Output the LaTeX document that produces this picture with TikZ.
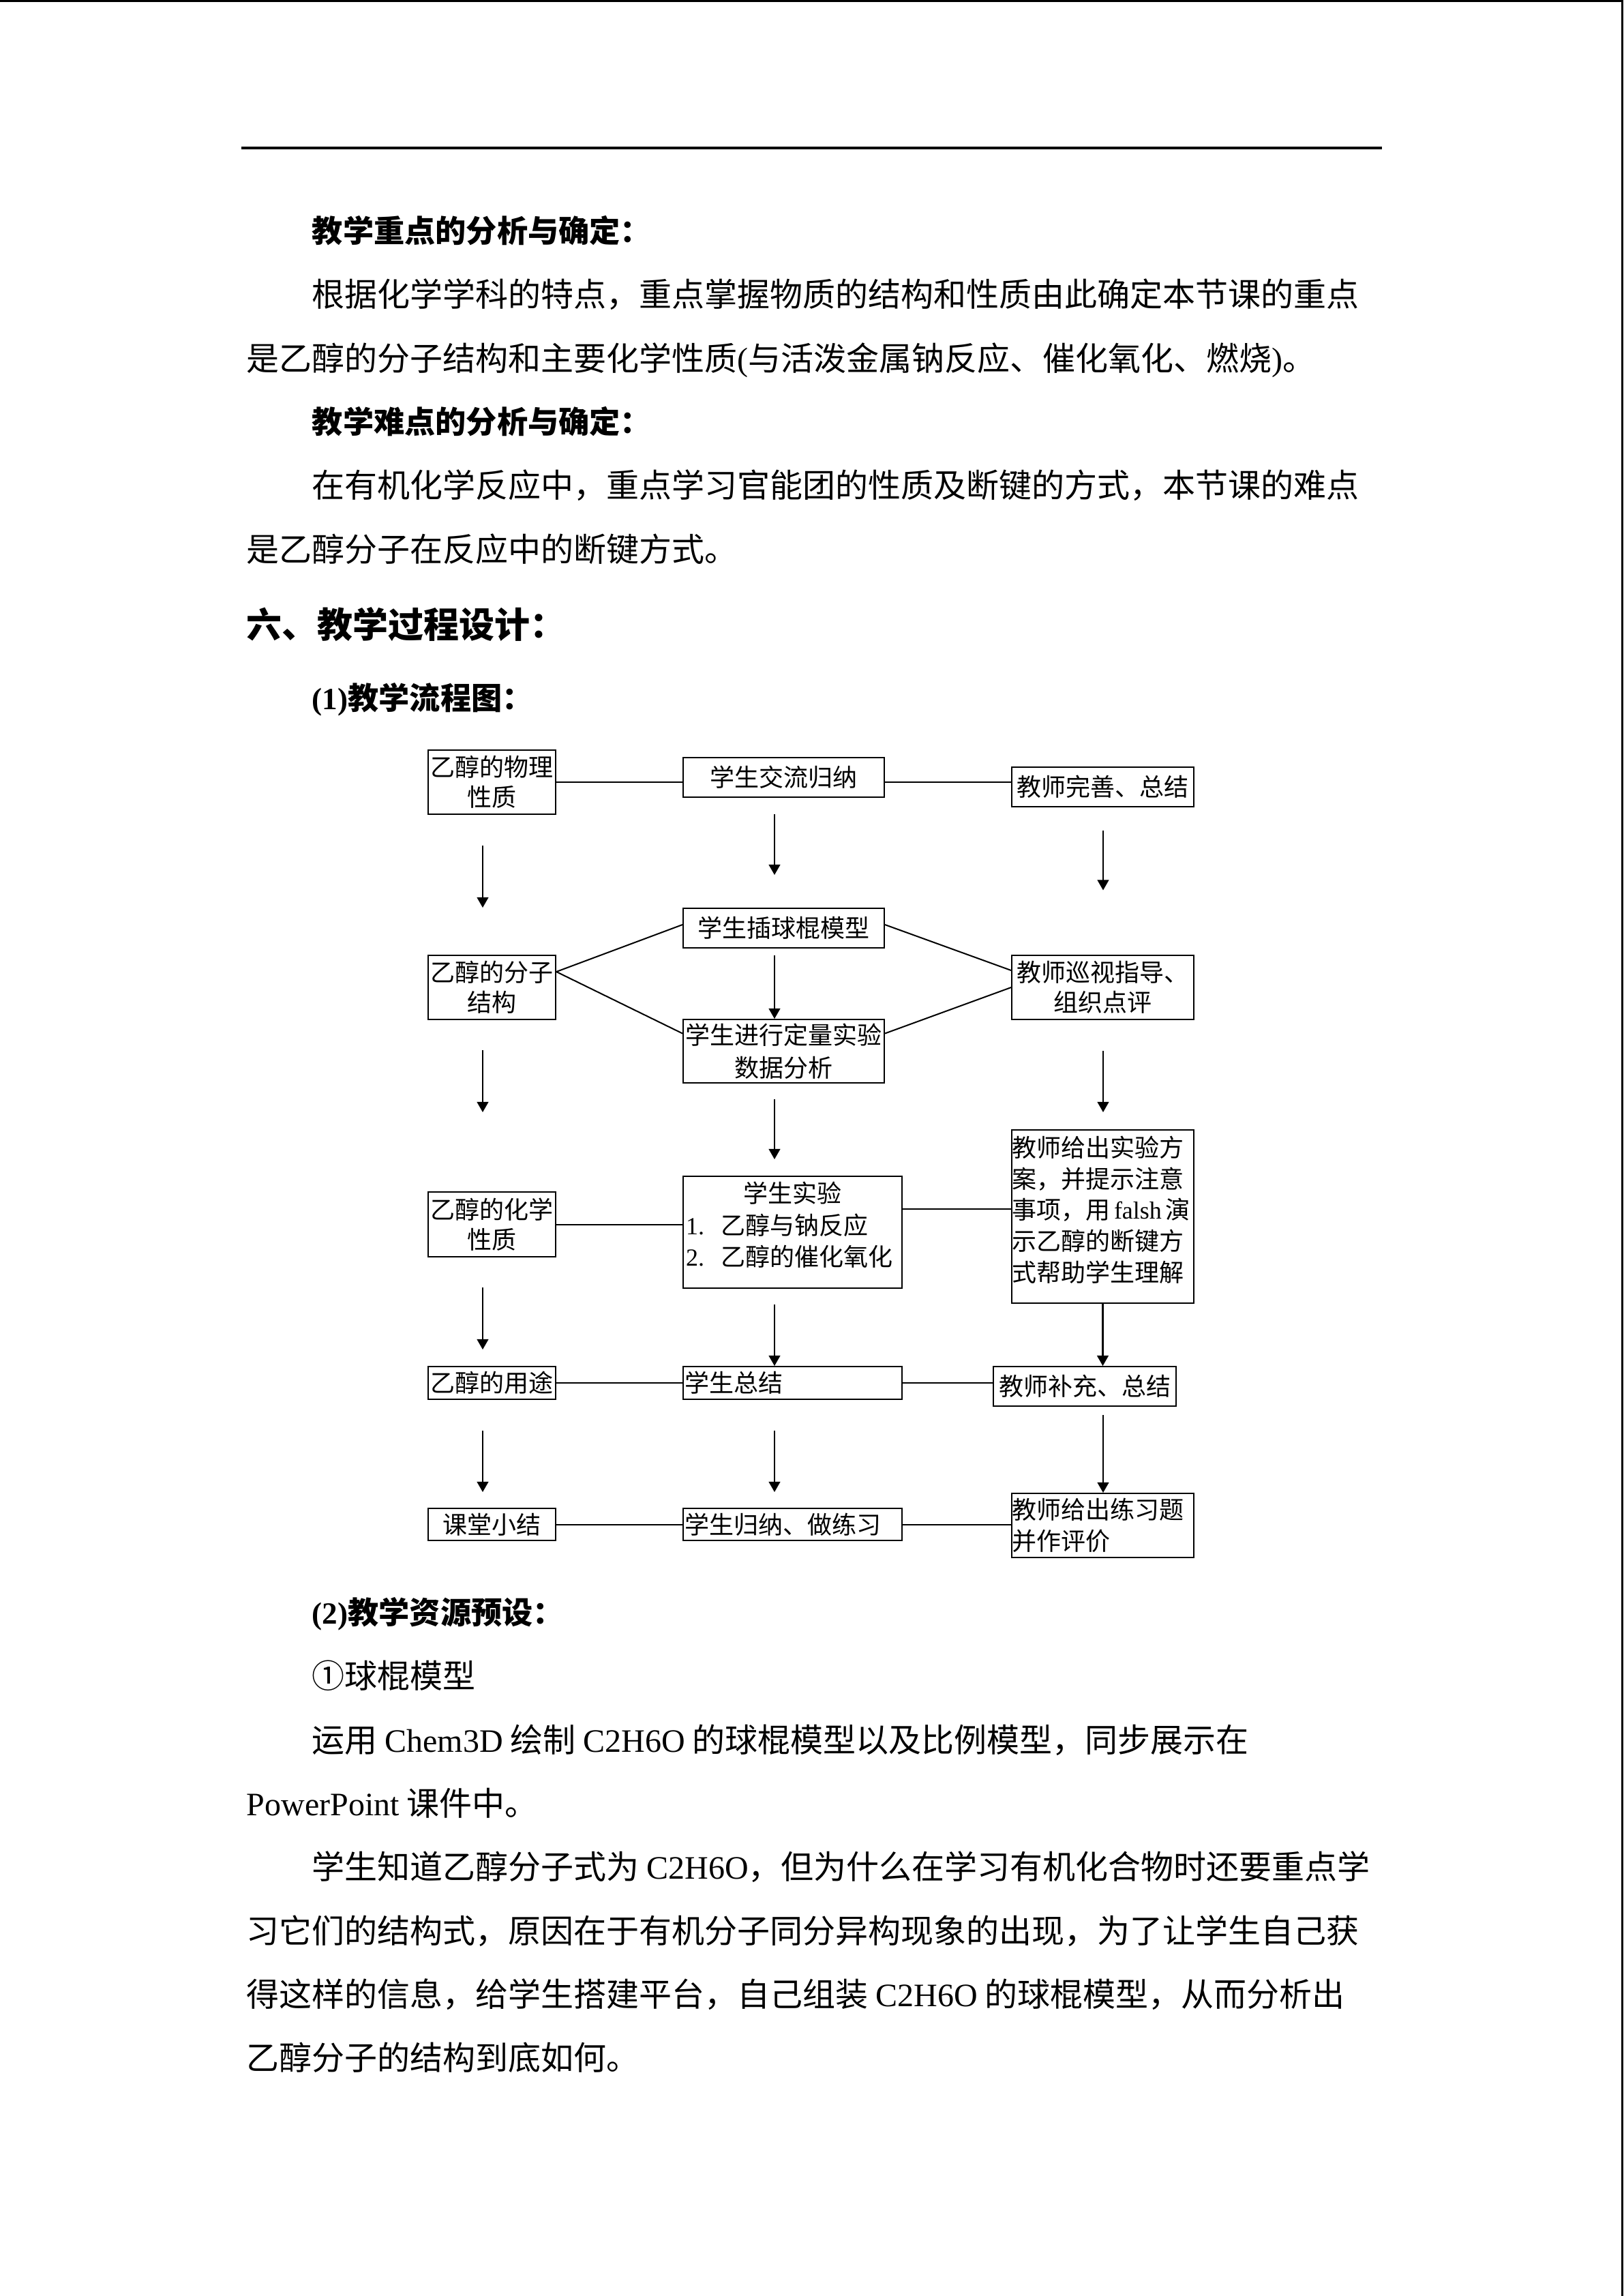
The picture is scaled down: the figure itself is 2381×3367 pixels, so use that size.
\documentclass[tikz,border=0pt]{standalone}
\usepackage{fontspec}
\setmainfont{Liberation Serif}
\newfontfamily\cjk{Noto Sans CJK SC}
\usetikzlibrary{arrows.meta,calc}
\begin{document}
\begin{tikzpicture}[x=0.25pt,y=-0.25pt,
  bodytxt/.style={anchor=base west, inner sep=0pt, font=\cjk\fontsize{12}{14}\selectfont},
  headtxt/.style={anchor=base west, inner sep=0pt, font=\cjk\bfseries\fontsize{11.3}{14}\selectfont},
  flowbox/.style={draw, line width=0.5pt, inner sep=0pt, font=\cjk\fontsize{9}{11}\selectfont, align=center},
  conn/.style={line width=0.5pt},
  arr/.style={line width=0.55pt, -{Triangle[width=4.2pt,length=3.8pt]}}
]
\fill[white] (0,0) rectangle (2381,3367);
\path[use as bounding box] (0,0) rectangle (2381,3367);
% scan frame
\draw[line width=0.8pt] (0,1.6) -- (2381,1.6);
\draw[line width=0.75pt] (2379,0) -- (2379,3367);
% header rule
\draw[line width=1pt] (354,217) -- (2027,217);

% body text
\node[headtxt] (h1) at (457,355) {教学重点的分析与确定：};
\node[bodytxt] (t1) at (457,449) {根据化学学科的特点，重点掌握物质的结构和性质由此确定本节课的重点};
\node[bodytxt] (t2) at (361,543) {是乙醇的分子结构和主要化学性质{\rmfamily(}与活泼金属钠反应、催化氧化、燃烧{\rmfamily)}。};
\node[headtxt] (h2) at (457,635) {教学难点的分析与确定：};
\node[bodytxt] (t3) at (457,729) {在有机化学反应中，重点学习官能团的性质及断键的方式，本节课的难点};
\node[bodytxt] (t4) at (361,823) {是乙醇分子在反应中的断键方式。};
\node[headtxt, font=\cjk\bfseries\fontsize{13}{15}\selectfont] (h3) at (361,935) {六、教学过程设计：};
\node[headtxt] (h4) at (457,1040) {{\rmfamily\bfseries (1)}教学流程图：};

% flowchart boxes
\node[flowbox, minimum width=46.75pt, minimum height=23.5pt] (A) at (721.5,1147) {乙醇的物理\\性质};
\node[flowbox, minimum width=73.75pt, minimum height=14.5pt] (B) at (1149.5,1140) {学生交流归纳};
\node[flowbox, minimum width=66.75pt, minimum height=14.5pt] (F) at (1617.5,1154) {教师完善、总结};
\node[flowbox, minimum width=73.75pt, minimum height=14.5pt] (C) at (1149.5,1361) {学生插球棍模型};
\node[flowbox, minimum width=46.75pt, minimum height=23.5pt] (D) at (721.5,1448) {乙醇的分子\\结构};
\node[flowbox, minimum width=66.75pt, minimum height=23.5pt] (G) at (1617.5,1448) {教师巡视指导、\\组织点评};
\node[flowbox, minimum width=73.75pt, minimum height=23.25pt, font=\cjk\fontsize{9}{12}\selectfont] (E) at (1149.5,1541.5) {学生进行定量实验\\数据分析};
\node[flowbox, minimum width=46.75pt, minimum height=23.75pt] (I) at (721.5,1795.5) {乙醇的化学\\性质};
\node[flowbox] (H) at (1162.5,1807) {\parbox[c][41pt][t]{80.25pt}{\fontsize{9}{11.6}\selectfont\centering\rule{0pt}{9.7pt}学生实验\par\raggedright\hspace*{1pt}{\rmfamily 1.}\hspace{6pt}乙醇与钠反应\par\hspace*{1pt}{\rmfamily 2.}\hspace{6pt}乙醇的催化氧化}};
\node[flowbox] (N) at (1617.5,1784) {\parbox[c][63.5pt][t]{66.75pt}{\fontsize{9}{11.4}\selectfont\raggedright\rule{0pt}{9.9pt}教师给出实验方\\案，并提示注意\\事项，用\hspace{1.5pt}{\rmfamily falsh}\hspace{1.5pt}演\\示乙醇的断键方\\式帮助学生理解}};
\node[flowbox, minimum width=46.75pt, minimum height=12pt] (J) at (721.5,2028) {乙醇的用途};
\node[flowbox, text width=79.25pt, inner xsep=0.5pt, minimum height=12pt, align=left] (K) at (1162.5,2028) {学生总结};
\node[flowbox, minimum width=67pt, minimum height=14.5pt] (P) at (1591,2033) {教师补充、总结};
\node[flowbox, minimum width=46.75pt, minimum height=11.75pt] (L) at (721.5,2235.5) {课堂小结};
\node[flowbox, text width=79.25pt, inner xsep=0.5pt, minimum height=11.75pt, align=left] (M) at (1162.5,2235.5) {学生归纳、做练习};
\node[flowbox, text width=66.75pt, minimum height=23.5pt, align=left, font=\cjk\fontsize{9}{11.4}\selectfont] (Q) at (1617.5,2237) {教师给出练习题\\并作评价};

% horizontal / slanted connectors
\draw[conn] (A.east) -- (A.east -| B.west);
\draw[conn] (B.east |- A.east) -- (A.east -| F.west);
\draw[conn] ([yshift=5.75pt]D.east) -- ([yshift=1.25pt]C.west);
\draw[conn] ([yshift=5.75pt]D.east) -- ([yshift=6.5pt]E.west);
\draw[conn] ([yshift=1.25pt]C.east) -- ([yshift=6.25pt]G.west);
\draw[conn] ([yshift=6.5pt]E.east) -- (G.west);
\draw[conn] (I.east) -- (I.east -| H.west);
\draw[conn] ([yshift=8.6pt]H.east) coordinate (hn) -- (hn -| N.west);
\draw[conn] (J.east) -- (J.east -| K.west);
\draw[conn] (K.east) -- (K.east -| P.west);
\draw[conn] (L.east) -- (L.east -| M.west);
\draw[conn] (M.east) -- (M.east -| Q.west);

% arrows, column 1
\coordinate (a1s) at (708,1240); \coordinate (a1e) at (708,1331);
\coordinate (a2s) at (708,1540); \coordinate (a2e) at (708,1631);
\coordinate (a3s) at (708,1888); \coordinate (a3e) at (708,1979);
\coordinate (a4s) at (708,2098); \coordinate (a4e) at (708,2188);
\draw[arr] (a1s) -- (a1e);
\draw[arr] (a2s) -- (a2e);
\draw[arr] (a3s) -- (a3e);
\draw[arr] (a4s) -- (a4e);
% column 2
\coordinate (b1s) at (1136,1194); \coordinate (b1e) at (1136,1283);
\coordinate (b2s) at (1136,1401);
\coordinate (b3s) at (1136,1612); \coordinate (b3e) at (1136,1700);
\coordinate (b4s) at (1136,1913);
\coordinate (b5s) at (1136,2098); \coordinate (b5e) at (1136,2188);
\draw[arr] (b1s) -- (b1e);
\draw[arr] (b2s) -- (b2s |- E.north);
\draw[arr] (b3s) -- (b3e);
\draw[arr] (b4s) -- (b4s |- K.north);
\draw[arr] (b5s) -- (b5e);
% column 3
\coordinate (c1s) at (1618,1217.5); \coordinate (c1e) at (1618,1305.5);
\coordinate (c2s) at (1618,1541); \coordinate (c2e) at (1618,1631);
\coordinate (c4s) at (1618,2075);
\draw[arr] (c1s) -- (c1e);
\draw[arr] (c2s) -- (c2e);
\draw[arr] (N.south) -- (N.south |- P.north);
\draw[arr] (c4s) -- (c4s |- Q.north);

% lower text
\node[headtxt] (h5) at (457,2381) {{\rmfamily\bfseries (2)}教学资源预设：};
\node[bodytxt] (t5) at (457,2475) {①球棍模型};
\node[bodytxt] (t6) at (457,2569) {运用 {\rmfamily Chem3D} 绘制 {\rmfamily C2H6O} 的球棍模型以及比例模型，同步展示在};
\node[bodytxt] (t7) at (361,2662) {{\rmfamily PowerPoint} 课件中。};
\node[bodytxt] (t8) at (457,2755) {学生知道乙醇分子式为 {\rmfamily C2H6O}，但为什么在学习有机化合物时还要重点学};
\node[bodytxt] (t9) at (361,2849) {习它们的结构式，原因在于有机分子同分异构现象的出现，为了让学生自己获};
\node[bodytxt] (t10) at (361,2942) {得这样的信息，给学生搭建平台，自己组装 {\rmfamily C2H6O} 的球棍模型，从而分析出};
\node[bodytxt] (t11) at (361,3035) {乙醇分子的结构到底如何。};
\end{tikzpicture}
\end{document}
